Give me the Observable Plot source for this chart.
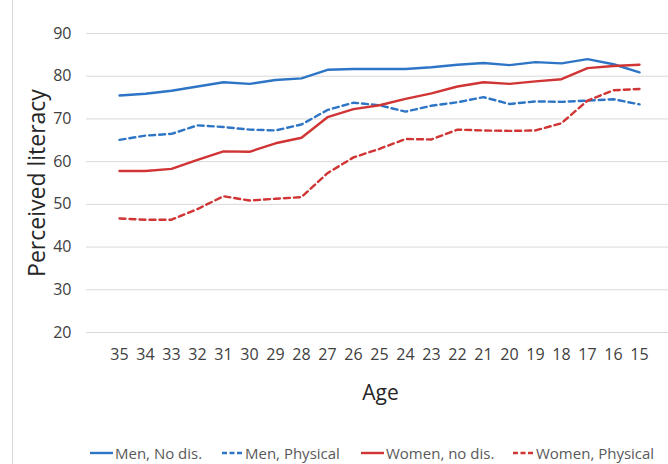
<!DOCTYPE html>
<html>
<head>
<meta charset="utf-8">
<script src="https://cdn.jsdelivr.net/npm/d3@7"></script>
<script src="https://cdn.jsdelivr.net/npm/@observablehq/plot@0.6"></script>
<style>
  html, body { margin: 0; padding: 0; background: #fff; }
  #wrap { position: relative; width: 668px; height: 464px; overflow: hidden; font-family: "Open Sans", sans-serif; }
  #border { position: absolute; left: 12px; top: 0; width: 1px; height: 464px; background: #d9d9d9; }
  .item { position: absolute; top: 443px; height: 20px; display: flex; align-items: center; font-size: 15px; color: #595959; white-space: nowrap; }
  .item svg { margin-right: 2px; }
</style>
</head>
<body>
<div id="wrap">
  <div id="border"></div>
  <div id="chart"></div>
</div>
<script>
const ages = [35, 34, 33, 32, 31, 30, 29, 28, 27, 26, 25, 24, 23, 22, 21, 20, 19, 18, 17, 16, 15];
const menNoDis =      [75.5, 75.9, 76.6, 77.6, 78.6, 78.2, 79.1, 79.5, 81.5, 81.7, 81.7, 81.7, 82.1, 82.7, 83.1, 82.6, 83.3, 83.0, 84.0, 82.8, 80.9];
const menPhysical =   [65.1, 66.1, 66.5, 68.5, 68.1, 67.5, 67.3, 68.7, 72.1, 73.8, 73.2, 71.7, 73.1, 73.9, 75.1, 73.5, 74.1, 74.0, 74.3, 74.6, 73.4];
const womenNoDis =    [57.8, 57.8, 58.3, 60.4, 62.4, 62.3, 64.3, 65.6, 70.4, 72.3, 73.2, 74.7, 76.0, 77.6, 78.6, 78.2, 78.8, 79.3, 81.9, 82.4, 82.7];
const womenPhysical = [46.7, 46.4, 46.4, 48.9, 51.9, 50.9, 51.3, 51.7, 57.3, 61.0, 63.0, 65.3, 65.2, 67.5, 67.3, 67.2, 67.3, 69.0, 74.3, 76.7, 77.0];
const seriesNames = ["Men, No dis.", "Men, Physical", "Women, no dis.", "Women, Physical"];
const seriesValues = [menNoDis, menPhysical, womenNoDis, womenPhysical];
const seriesColors = ["#2e75c6", "#2e75c6", "#d03434", "#d03434"];
const seriesDash = [null, "6,4", null, "6,4"];
const yTicks = [20, 30, 40, 50, 60, 70, 80, 90];

const font = "'Open Sans', sans-serif";

const lineMarks = seriesNames.map((name, i) => {
  const data = ages.map((a, j) => ({age: a, value: seriesValues[i][j]}));
  return Plot.line(data, {
    x: "age", y: "value",
    stroke: seriesColors[i],
    strokeWidth: 2.4,
    strokeDasharray: seriesDash[i],
    strokeLinejoin: "round"
  });
});

const chart = Plot.plot({
  width: 668,
  height: 420,
  marginTop: 33,
  marginBottom: 88,
  marginLeft: 86,
  marginRight: 0,
  style: { fontFamily: font, background: "transparent" },
  x: { type: "point", domain: ages, range: [99, 659] },
  y: { domain: [20, 90], ticks: yTicks },
  marks: [
    Plot.gridY(yTicks, { stroke: "#d9d9d9", strokeOpacity: 1, strokeWidth: 1 }),
    Plot.axisY(yTicks, { tickSize: 0, tickPadding: 15, fontSize: 16, fill: "#404040", label: null }),
    Plot.axisX(ages, { tickSize: 0, tickPadding: 16, fontSize: 16, fill: "#404040", label: null }),
    ...lineMarks,
    Plot.text(["Age"], { frameAnchor: "bottom", textAnchor: "middle", lineAnchor: "middle", dy: 61, dx: 3, fontSize: 21, fill: "#262626" }),
    Plot.text(["Perceived literacy"], { frameAnchor: "left", textAnchor: "middle", lineAnchor: "middle", rotate: -90, dx: -49, fontSize: 23, fill: "#262626" })
  ]
});
document.getElementById("chart").appendChild(chart);

const legendLeft = [90, 222, 361, 513];
const wrap = document.getElementById("wrap");
seriesNames.forEach((name, i) => {
  const item = document.createElement("div");
  item.className = "item";
  item.style.left = legendLeft[i] + "px";
  const w = seriesDash[i] ? 21 : 23;
  const dash = seriesDash[i] ? `stroke-dasharray="5,2.5"` : "";
  item.innerHTML = `<svg width="${w}" height="10"><line x1="0" y1="5" x2="${w}" y2="5" stroke="${seriesColors[i]}" stroke-width="2.4" ${dash}/></svg><span>${name}</span>`;
  wrap.appendChild(item);
});
</script>
</body>
</html>
